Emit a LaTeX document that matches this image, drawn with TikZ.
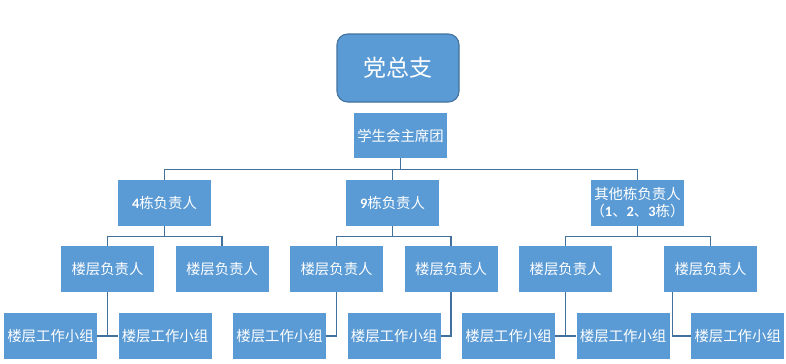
\documentclass[tikz,border=0pt]{standalone}
\usepackage{fontspec}
\setmainfont{Noto Sans CJK SC}
\newfontfamily\latinfont{Carlito}
\usetikzlibrary{positioning,calc}
\definecolor{boxblue}{RGB}{91,155,213}
\definecolor{linkblue}{RGB}{65,113,156}
\tikzset{
  unit/.style={fill=boxblue,text=white,minimum width=69.75pt,minimum height=34.5pt,
            inner sep=0pt,align=center,font=\fontsize{10.8}{12.8}\selectfont},
  topunit/.style={unit,draw=linkblue,line width=0.8pt,rounded corners=8pt,
            minimum width=91.5pt,minimum height=51pt,font=\fontsize{17.25}{20}\selectfont},
  link/.style={draw=linkblue,line width=1.1pt},
}
\newcommand{\bnum}[1]{{\latinfont\bfseries #1}}

\begin{document}
\begin{tikzpicture}[x=0.75pt,y=-0.75pt,node distance=15.75pt]
  \useasboundingbox (0,0) rectangle (786,364);
  % top levels
  \node[topunit] (dzz) at (398,68) {党总支};
  \node[unit,minimum height=33.75pt] (xsh) at (400.5,135.5) {学生会主席团};
  % building heads
  \node[unit] (d4) at (164.5,203) {\bnum{4}栋负责人};
  \node[unit] (d9) at (392.5,203) {\bnum{9}栋负责人};
  \node[unit] (dq) at (637.5,203) {其他栋负责人\\（\bnum{1}、\bnum{2}、\bnum{3}栋）};
  \draw[link] (xsh.south) -- ++(0,11) -| (d4.north);
  \draw[link] (xsh.south) -- ++(0,11) -| (d9.north);
  \draw[link] (xsh.south) -- ++(0,11) -| (dq.north);
  % floor heads
  \node[unit] (f1) at (107.5,269) {楼层负责人};
  \node[unit,right=of f1] (f2) {楼层负责人};
  \node[unit,right=of f2] (f3) {楼层负责人};
  \node[unit,right=of f3] (f4) {楼层负责人};
  \node[unit,right=of f4] (f5) {楼层负责人};
  \node[unit] (f6) at (710.5,269) {楼层负责人};
  \draw[link] (d4.south) -- ++(0,10) -| (f1.north);
  \draw[link] (d4.south) -- ++(0,10) -| (f2.north);
  \draw[link] (d9.south) -- ++(0,10) -| (f3.north);
  \draw[link] (d9.south) -- ++(0,10) -| (f4.north);
  \draw[link] (dq.south) -- ++(0,10) -| (f5.north);
  \draw[link] (dq.south) -- ++(0,10) -| (f6.north);
  % floor work groups
  \node[unit] (g1) at (50.5,336) {楼层工作小组};
  \node[unit,right=of g1] (g2) {楼层工作小组};
  \node[unit,right=of g2] (g3) {楼层工作小组};
  \node[unit,right=of g3] (g4) {楼层工作小组};
  \node[unit,right=of g4] (g5) {楼层工作小组};
  \node[unit,right=of g5] (g6) {楼层工作小组};
  \node[unit,right=of g6] (g7) {楼层工作小组};
  \draw[link] (f1.south) |- (g1.east);
  \draw[link] (f1.south) |- (g2.west);
  \draw[link] (f3.south) |- (g3.east);
  \draw[link] (f4.south) |- (g4.east);
  \draw[link] (f5.south) |- (g5.east);
  \draw[link] (f5.south) |- (g6.west);
  \draw[link] ($(f6.south west)+(9,0)$) |- (g7.west);
\end{tikzpicture}
\end{document}
